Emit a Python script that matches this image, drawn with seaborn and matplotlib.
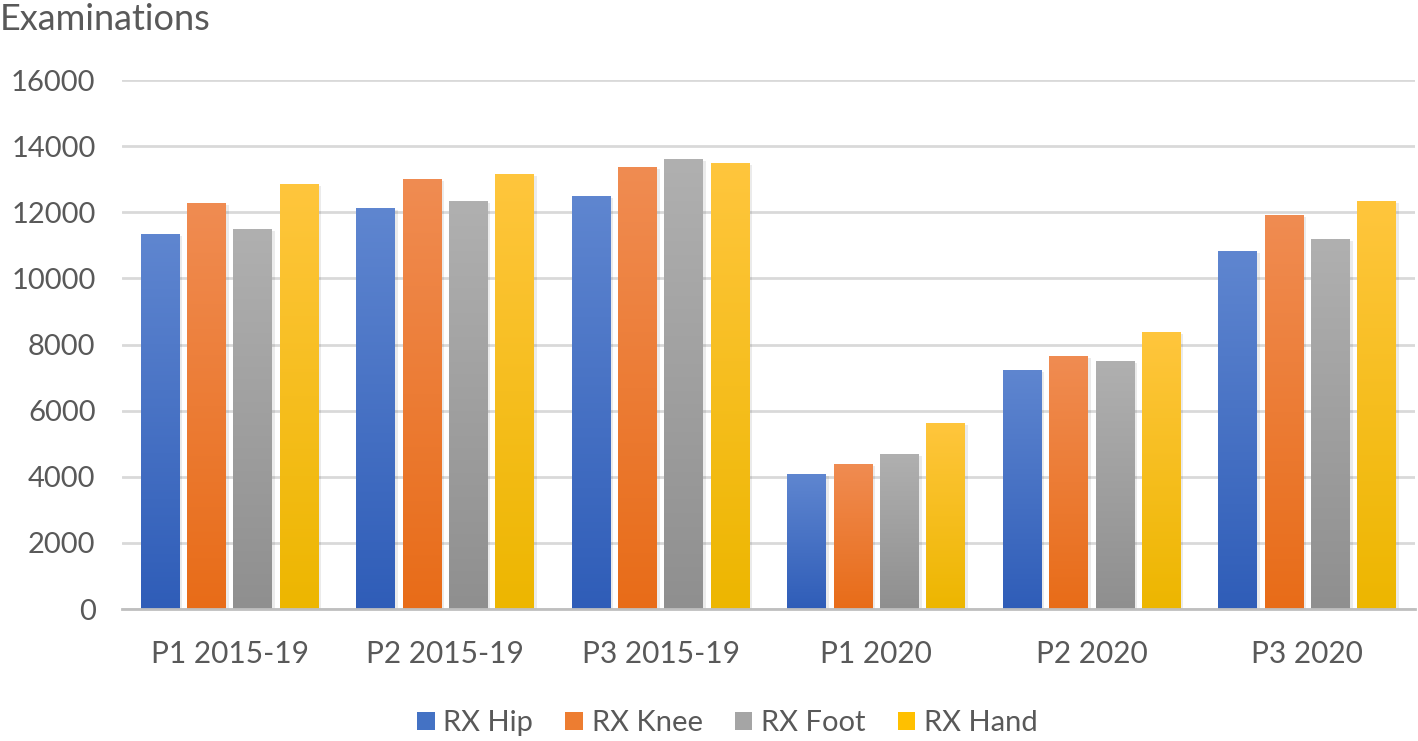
import numpy as np
import pandas as pd
import matplotlib
matplotlib.use("Agg")
import matplotlib.pyplot as plt
import matplotlib.colors as mcolors
from matplotlib.patches import Patch
import seaborn as sns

categories = ["P1 2015-19", "P2 2015-19", "P3 2015-19", "P1 2020", "P2 2020", "P3 2020"]
series = ["RX Hip", "RX Knee", "RX Foot", "RX Hand"]
hip = [11330, 12120, 12480, 4080, 7240, 10820]
knee = [12280, 13020, 13380, 4390, 7660, 11930]
foot = [11480, 12330, 13600, 4700, 7500, 11180]
hand = [12860, 13170, 13480, 5640, 8390, 12350]
yticks = [0, 2000, 4000, 6000, 8000, 10000, 12000, 14000, 16000]

base_colors = ["#4472C4", "#ED7D31", "#A5A5A5", "#FFC000"]
top_colors = ["#5F86D0", "#F08C52", "#B0B0B0", "#FFC63D"]
bot_colors = ["#2F5DB8", "#E86C18", "#8F8F8F", "#EDB600"]

rows = []
for s, vals in zip(series, [hip, knee, foot, hand]):
    for c, v in zip(categories, vals):
        rows.append({"cat": c, "series": s, "value": v})
df = pd.DataFrame(rows)

sns.set_theme(style="white")
plt.rcParams["font.family"] = ["Lato", "DejaVu Sans"]
text_col = "#595959"

fig = plt.figure(figsize=(14.18, 7.41), dpi=100)
ax = fig.add_axes([0.086, 0.178, 0.912, 0.714])

sns.barplot(data=df, x="cat", y="value", hue="series", order=categories,
            hue_order=series, palette=base_colors, width=0.86, gap=0.16,
            ax=ax, legend=False, saturation=1, linewidth=0)

ax.set_ylim(0, 16000)
ax.set_xlim(-0.5, len(categories) - 0.5)
ax.set_yticks(yticks)
ax.set_yticklabels([str(t) for t in yticks])
ax.yaxis.grid(True, color="#D9D9D9", linewidth=2)
ax.set_axisbelow(True)
for sp in ["top", "right", "left"]:
    ax.spines[sp].set_visible(False)
ax.spines["bottom"].set_color("#BFBFBF")
ax.spines["bottom"].set_linewidth(2)
ax.tick_params(axis="x", length=0, labelsize=21.5, colors=text_col, pad=22)
ax.tick_params(axis="y", length=0, labelsize=21, colors=text_col, pad=19)
ax.set_xlabel("")
ax.set_ylabel("")

# gradient fills
n = len(categories)
for i, p in enumerate(ax.patches[: n * len(series)]):
    si = i // n
    x0, y0 = p.get_x(), p.get_y()
    w, h = p.get_width(), p.get_height()
    cmap = mcolors.LinearSegmentedColormap.from_list("g", [bot_colors[si], top_colors[si]])
    grad = np.linspace(0, 1, 256).reshape(-1, 1)
    sh = plt.Rectangle((x0 + 0.012, y0), w, h - 60, facecolor="#000000", alpha=0.08,
                       linewidth=0, zorder=p.get_zorder() - 0.1)
    ax.add_patch(sh)
    im = ax.imshow(grad, extent=[x0, x0 + w, y0, y0 + h], origin="lower", cmap=cmap,
                   aspect="auto", zorder=p.get_zorder() + 0.1, interpolation="bilinear")
    im.set_clip_path(p)
ax.set_xlim(-0.5, len(categories) - 0.5)
ax.set_ylim(0, 16000)

handles = [Patch(facecolor=c, edgecolor="none") for c in base_colors]
leg = fig.legend(handles, series, loc="center", bbox_to_anchor=(0.513, 0.024), ncol=4,
                 frameon=False, fontsize=21, handlelength=0.6, handleheight=0.6,
                 handletextpad=0.3, columnspacing=1.1)
for t in leg.get_texts():
    t.set_color(text_col)

fig.text(0.0, 0.974, "Examinations", fontsize=26, color=text_col, ha="left", va="center")

fig.savefig("out.png", dpi=100)
